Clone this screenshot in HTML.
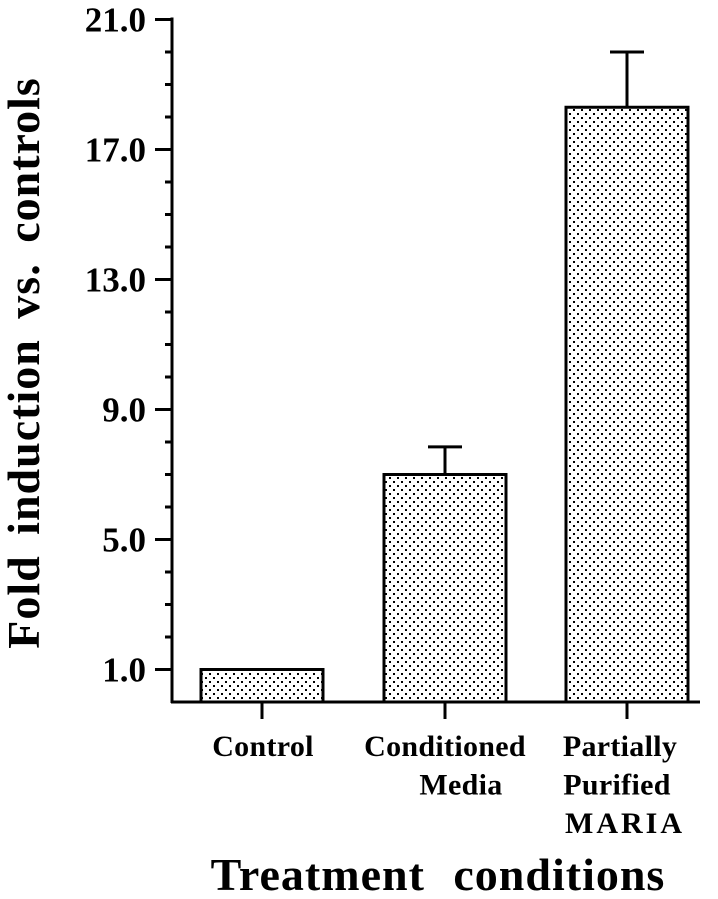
<!DOCTYPE html>
<html><head><meta charset="utf-8"><style>
html,body{margin:0;padding:0;background:#fff;}
svg{display:block;font-family:"Liberation Serif",serif;font-weight:bold;}
</style></head><body>
<svg width="718" height="899" viewBox="0 0 718 899">
<defs>
<pattern id="dots" width="8" height="8" patternUnits="userSpaceOnUse">
<rect x="1" y="1" width="2" height="2" fill="#000"/>
<rect x="5" y="5" width="2" height="2" fill="#000"/>
</pattern>
</defs>
<g id="yaxis"></g>
<g id="bars"></g>
<g id="xaxis"></g>
<text transform="translate(39,363) rotate(-90)" text-anchor="middle" font-size="46" letter-spacing="1" word-spacing="8">Fold induction vs. controls</text>
<text x="438" y="890" text-anchor="middle" font-size="46" letter-spacing="1" word-spacing="16">Treatment conditions</text>
</svg>
<script>
const categories = [["Control"],["Conditioned","Media"],["Partially","Purified","MARIA"]];
const values = [1.0, 7.0, 18.3];
const errors = [0, 0.85, 1.7];
const tickValues = [1, 5, 9, 13, 17, 21];
const tickLabels = ["1.0","5.0","9.0","13.0","17.0","21.0"];

const NS="http://www.w3.org/2000/svg";
const x0=172, y0=702, ppu=32.5;
const y = v => y0 - v*ppu;
const barW=122, centers=[262,445,627];
const labelCenters=[263,445,620];
const labelOffsets=[[0],[0,16],[0,-3,5]];
const xc = i => centers[i];
function mk(tag, attrs, parent){const e=document.createElementNS(NS,tag);for(const k in attrs)e.setAttribute(k,attrs[k]);parent.appendChild(e);return e;}
const ya=document.getElementById('yaxis'), bg=document.getElementById('bars'), xa=document.getElementById('xaxis');
let l=mk('line',{x1:x0,y1:y(21)-2,x2:x0,y2:y0+1,stroke:'#000','stroke-width':3},ya);


for(let v=1; v<=21; v++){
  const major = tickValues.includes(v);
  const t=mk('line',{x1:major?x0-17:x0-7,x2:x0,y1:y(v),y2:y(v),stroke:'#000','stroke-width':3},ya);
  
  
}
tickValues.forEach((v,i)=>{
  const t=mk('text',{x:x0-26,y:y(v)+12,'text-anchor':'end','font-size':35},ya);
  t.textContent=tickLabels[i];
  
  
});
values.forEach((v,i)=>{
  const cx=xc(i);
  if(errors[i]>0){
    const e=mk('line',{x1:cx,x2:cx,y1:y(v),y2:y(v+errors[i]),stroke:'#000','stroke-width':3},bg);
    
    
    const c=mk('line',{x1:cx-17,x2:cx+17,y1:y(v+errors[i]),y2:y(v+errors[i]),stroke:'#000','stroke-width':3},bg);
    
    
  }
  const r=mk('rect',{x:cx-barW/2,y:y(v),width:barW,height:y0-y(v),fill:'url(#dots)',stroke:'#000','stroke-width':3},bg);
  
  
});
l=mk('line',{x1:x0-1,x2:700,y1:y0,y2:y0,stroke:'#000','stroke-width':3},xa);


categories.forEach((lines,i)=>{
  const cx=xc(i);
  const t=mk('line',{x1:cx,x2:cx,y1:y0,y2:y0+17,stroke:'#000','stroke-width':3},xa);
  
  
  lines.forEach((s,j)=>{
    const tx=mk('text',{x:labelCenters[i]+labelOffsets[i][j],y:756+j*38.5,'text-anchor':'middle','font-size':30,'letter-spacing':(s==='MARIA'?3:0.3)},xa);
    tx.textContent=s;
    
    
  });
});
</script>
</body></html>
